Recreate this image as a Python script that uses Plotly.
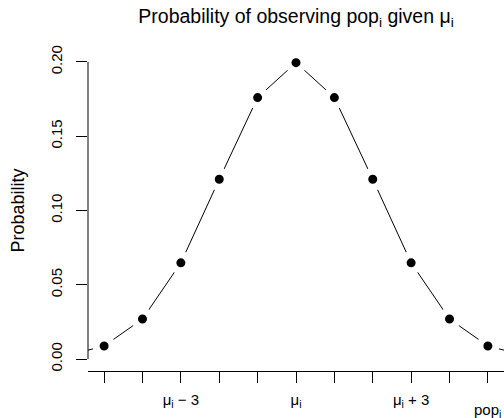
import plotly.graph_objects as go

# Offsets from the mean (in units) and the normal density (sd = 2) at each offset
offsets = [-6, -5, -4, -3, -2, -1, 0, 1, 2, 3, 4, 5, 6]
probability = [0.0022, 0.0088, 0.0270, 0.0648, 0.1210, 0.1760, 0.1995,
               0.1760, 0.1210, 0.0648, 0.0270, 0.0088, 0.0022]

x_ticks = [-5, -4, -3, -2, -1, 0, 1, 2, 3, 4, 5]
x_tick_text = ["", "", "μ<sub>i</sub> − 3", "", "", "μ<sub>i</sub>", "", "",
               "μ<sub>i</sub> + 3", "", ""]
y_ticks = [0.00, 0.05, 0.10, 0.15, 0.20]
y_tick_text = ["0.00", "0.05", "0.10", "0.15", "0.20"]

FONT = "Liberation Sans, Arial, Helvetica, sans-serif"
TICK_SIZE = 15

fig = go.Figure()
fig.add_trace(go.Scatter(
    x=offsets, y=probability, mode="lines+markers",
    line=dict(color="black", width=1),
    # white ring around each dot leaves the small gap in the line ("b" style)
    marker=dict(color="black", size=16, line=dict(color="white", width=7)),
    showlegend=False, hoverinfo="skip",
))

fig.update_layout(
    width=504, height=418,
    margin=dict(l=88, r=0, t=50, b=47),
    paper_bgcolor="white", plot_bgcolor="white",
    font=dict(family=FONT, size=TICK_SIZE, color="black"),
    title=dict(
        text="Probability of observing pop<sub>i</sub> given μ<sub>i</sub>",
        x=0.5, xref="paper", xanchor="center",
        y=1 - 16 / 418, yref="container", yanchor="middle",
        font=dict(size=19.5, family=FONT, color="black"),
    ),
    xaxis=dict(
        range=[-5.42, 5.42], showgrid=False, zeroline=False,
        showline=True, linecolor="black", linewidth=1,
        tickmode="array", tickvals=x_ticks, ticktext=x_tick_text,
        ticks="outside", ticklen=11, tickcolor="black", tickwidth=1,
        tickfont=dict(size=TICK_SIZE, family=FONT), ticklabelstandoff=4,
    ),
    yaxis=dict(
        range=[-0.008, 0.208], showgrid=False, zeroline=False,
        showline=False,
        tickmode="array", tickvals=y_ticks, ticktext=y_tick_text,
        ticks="outside", ticklen=11, tickcolor="black", tickwidth=1,
        tickangle=-90, tickfont=dict(size=TICK_SIZE, family=FONT),
        ticklabelstandoff=8,
        title=dict(text="Probability", standoff=18,
                   font=dict(size=18, family=FONT)),
    ),
)

# y axis line spans only the labelled range
fig.add_shape(type="line", xref="paper", yref="y", x0=0, x1=0,
              y0=y_ticks[0], y1=y_ticks[-1],
              line=dict(color="black", width=1))

# label of the observed value, set lower than the other tick labels
fig.add_annotation(x=5, xref="x", y=0, yref="paper",
                   text="pop<sub>i</sub>", showarrow=False,
                   yanchor="top", yshift=-28,
                   font=dict(size=TICK_SIZE, family=FONT, color="black"))

fig.write_html("out.html")
